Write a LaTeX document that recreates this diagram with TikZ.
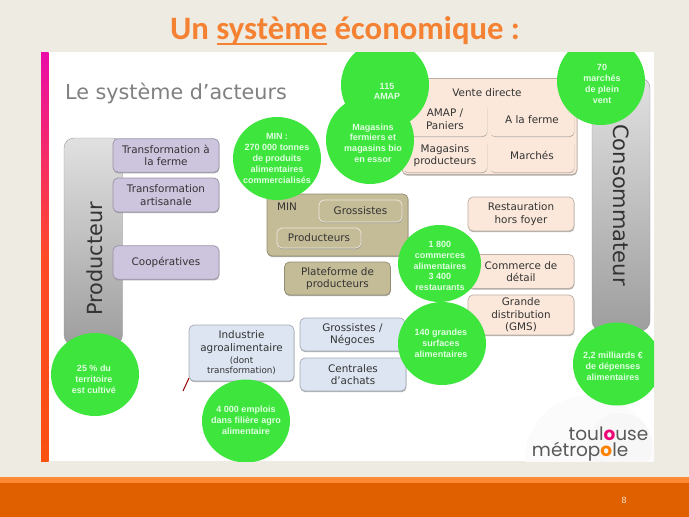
\documentclass[tikz,border=0pt]{standalone}
\usepackage{xcolor}
\usepackage{fontspec}
\setmainfont{DejaVu Sans}
\newfontfamily\titlefont{Carlito}
\newfontfamily\bubblefont{Liberation Sans}
\newfontfamily\logofont{Poppins}
\usetikzlibrary{shadows}
\definecolor{page-bg}{HTML}{EEEBE2}
\definecolor{title-orange}{HTML}{F58233}
\definecolor{band-light}{HTML}{FF8A33}
\definecolor{band-dark}{HTML}{E06000}
\definecolor{bubble-green}{HTML}{3DE53D}
\definecolor{box-purple}{HTML}{CDC4DE}
\definecolor{box-khaki}{HTML}{C4BB97}
\definecolor{box-blue}{HTML}{DCE5F1}
\definecolor{box-peach}{HTML}{FBE8DA}
\definecolor{ink}{HTML}{333333}
\definecolor{strip-top}{HTML}{EA0CA8}
\definecolor{strip-mid}{HTML}{FF4A28}
\definecolor{strip-bot}{HTML}{FA5010}
\newcommand{\smalltxt}[1]{{\fontsize{8.8}{10}\selectfont #1}}
\tikzset{
  acteur/.style={rounded corners=5pt, draw=#1!75!black, fill=#1, line width=0.7pt, inner sep=0pt, outer sep=0pt,
    align=center, text=ink, font=\fontsize{10.4}{12.6}\selectfont,
    drop shadow={shadow xshift=0.4pt, shadow yshift=-1.2pt, fill=black!45, opacity=0.7}},
  bubbletext/.style={align=center, text=white!88!green, inner sep=0pt,
    font=\bubblefont\bfseries\fontsize{9}{10.8}\selectfont},
  sidebar/.style={rounded corners=10pt, top color=black!12, bottom color=black!38, draw=black!40, line width=0.4pt},
  logotext/.style={anchor=base east, text=black!65, inner sep=0pt, font=\logofont\fontsize{18.5}{20}\selectfont},
}
\begin{document}
\begin{tikzpicture}[x=1pt, y=-1pt]
    \useasboundingbox (0,0) rectangle (689,517);
    \fill[page-bg] (0,0) rectangle (689,517);
    % bottom band
    \fill[band-dark] (0,477) rectangle (689,517);
    \fill[band-light] (0,477) rectangle (689,482.5);
    \node[text=page-bg!85!orange, font=\fontsize{8.5}{10}\selectfont] (pagenum) at (624,500.5) {8};
    \node[text=title-orange, inner sep=0pt, font=\titlefont\bfseries\fontsize{32.7}{36}\selectfont] (title) at (345,31) {Un système économique :};
    \draw[title-orange, line width=1.2pt] (217,44) -- (327,44);
    % panel
    \fill[white] (41,52) rectangle (654,461);
    \begin{scope}
      \clip (41,52) rectangle (654,461);
      \fill[black!1.5] (590,460) circle (65pt);
      \fill[black!3] (620,445) circle (32pt);
    \end{scope}
    \shade[top color=strip-top, bottom color=strip-bot, middle color=strip-mid] (41,52) rectangle (48.5,461);
    \node[text=black!50, anchor=west, inner sep=0pt, font=\fontsize{20.7}{25}\selectfont] (heading) at (65,93) {Le système d’acteurs};
    % side bars
    \draw[sidebar] (64,345) -- (64,138) -- (122.5,138) -- (122.5,345) -- cycle;
    \draw[sidebar] (592,331) -- (592,78) -- (650,78) -- (650,331) -- cycle;
    \node[rotate=90, text=ink, inner sep=0pt, font=\fontsize{20.8}{25}\selectfont] (producteur) at (95,259) {Producteur};
    \node[rotate=-90, text=ink, inner sep=0pt, font=\fontsize{21}{25}\selectfont] (consommateur) at (621,205) {Consommateur};
    % producer side
    \node[acteur=box-purple, minimum width=106pt, minimum height=33.5pt] (ferme) at (166,155.5) {Transformation à\\la ferme};
    \node[acteur=box-purple, minimum width=106pt, minimum height=34pt] (artisanale) at (166,195) {Transformation\\artisanale};
    \node[acteur=box-purple, minimum width=106pt, minimum height=33.5pt] (coop) at (166,262.5) {Coopératives};
    % MIN
    \node[acteur=box-khaki, minimum width=141pt, minimum height=62pt] (min) at (337.5,225) {};
    \node[text=ink, font=\fontsize{10.4}{13}\selectfont] (minlabel) at (287,206.5) {MIN};
    \node[acteur=box-khaki, draw=white!70!box-khaki, minimum width=83pt, minimum height=22pt] (grossistes) at (360.5,211) {Grossistes};
    \node[acteur=box-khaki, draw=white!70!box-khaki, minimum width=84pt, minimum height=20pt] (prod) at (319,238) {Producteurs};
    \node[acteur=box-khaki, minimum width=106pt, minimum height=33pt] (plateforme) at (337.5,278.5) {Plateforme de\\producteurs};
    % industry
    \node[acteur=box-blue, minimum width=105pt, minimum height=56pt] (industrie) at (241.5,353) {Industrie\\agroalimentaire\\[-1pt]\smalltxt{(dont}\\[-2pt]\smalltxt{transformation)}};
    \node[acteur=box-blue, minimum width=105pt, minimum height=33pt] (negoces) at (352.5,334.5) {Grossistes /\\Négoces};
    \node[acteur=box-blue, minimum width=106pt, minimum height=33pt] (centrales) at (353,374.5) {Centrales\\d’achats};
    \draw[red!60!black, line width=1pt] (183,391) -- (189,378);
    % vente directe
    \node[acteur=box-peach, minimum width=175pt, minimum height=96pt] (vente) at (489.5,126.5) {};
    \node[text=ink, font=\fontsize{10.4}{13}\selectfont] (ventelabel) at (487,92.5) {Vente directe};
    \node[acteur=box-peach, draw=box-peach, minimum width=84pt, minimum height=33pt] (amap) at (445,119.5) {AMAP /\\Paniers};
    \node[acteur=box-peach, draw=box-peach, minimum width=84pt, minimum height=33pt] (alaferme) at (532,119.5) {A la ferme};
    \node[acteur=box-peach, draw=box-peach, minimum width=84pt, minimum height=33pt] (magprod) at (445,155.5) {Magasins\\producteurs};
    \node[acteur=box-peach, draw=box-peach, minimum width=84pt, minimum height=33pt] (marches) at (532,155.5) {Marchés};
    % retail
    \node[acteur=box-peach, minimum width=106pt, minimum height=34pt] (restauration) at (521,214) {Restauration\\hors foyer};
    \node[acteur=box-peach, minimum width=106pt, minimum height=34pt] (commerce) at (521,271.5) {Commerce de\\détail};
    \node[acteur=box-peach, minimum width=106pt, minimum height=40pt] (gms) at (521,315) {Grande\\distribution\\(GMS)};
    % logo
    \node[logotext] (toulouse) at (648.5,440.5) {toul\textcolor{magenta!80!red}{\textbf{o}}use};
    \node[logotext] (metropole) at (628.5,456) {métrop\textcolor{orange}{\textbf{o}}le};
    % bubbles
    \begin{scope}
      \clip (41,52) rectangle (654,461);
      \fill[bubble-green] (385,85) circle (44pt);
      \fill[bubble-green] (370,140) circle (44pt);
      \fill[bubble-green] (277,158.5) ellipse (44pt and 41.5pt);
      \fill[bubble-green] (601,81) ellipse (44pt and 44pt);
      \fill[bubble-green] (95,374.5) ellipse (44pt and 41.5pt);
      \fill[bubble-green] (246,421) ellipse (44pt and 41.5pt);
      \fill[bubble-green] (439.5,263.5) ellipse (41.5pt and 38.5pt);
      \fill[bubble-green] (442,343.5) ellipse (44pt and 41.5pt);
      \fill[bubble-green] (617,364) ellipse (44pt and 41.5pt);
    \end{scope}
    \node[bubbletext] (amaptxt) at (387,91.5) {115\\AMAP};
    \node[bubbletext] (magtxt) at (373,143) {Magasins\\fermiers et\\magasins bio\\en essor};
    \node[bubbletext] (mintxt) at (277,158.5) {MIN :\\270 000 tonnes\\de produits\\alimentaires\\commercialisés};
    \node[bubbletext] (marchetxt) at (602,84) {70\\marchés\\de plein\\vent};
    \node[bubbletext] (territoire) at (94,379) {25 \% du\\territoire\\est cultivé};
    \node[bubbletext] (emplois) at (246,420.5) {4 000 emplois\\dans filière agro\\alimentaire};
    \node[bubbletext] (commercetxt) at (440,266) {1 800\\commerces\\alimentaires\\3 400\\restaurants};
    \node[bubbletext] (surfaces) at (441,343.5) {140 grandes\\surfaces\\alimentaires};
    \node[bubbletext] (depenses) at (613,366) {2,2 milliards €\\de dépenses\\alimentaires};
  \end{tikzpicture}
\end{document}
